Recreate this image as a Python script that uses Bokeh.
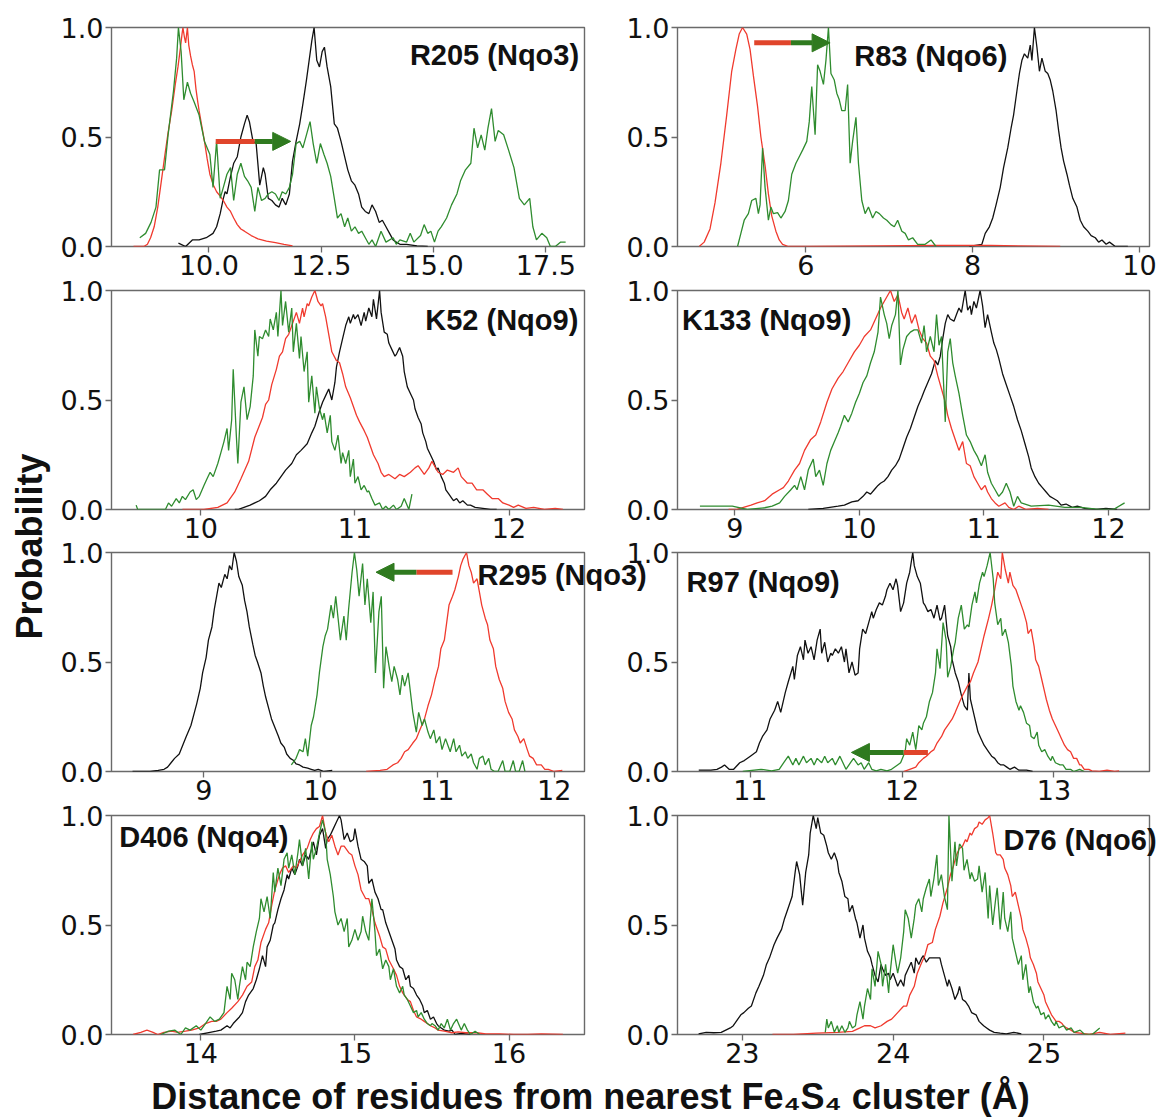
import math
from bokeh.plotting import figure
from bokeh.layouts import row, column
from bokeh.models import Range1d, FixedTicker, PrintfTickFormatter, Label, Arrow, NormalHead
from bokeh.embed import file_html
from bokeh.resources import INLINE

# ---------------- data ----------------
# Panel R205 (Nqo3)
r205_black_x = [9.32, 9.48, 9.63, 9.78, 9.94, 10.09, 10.17, 10.25, 10.32, 10.36, 10.40, 10.48, 10.55, 10.63, 10.71, 10.79, 10.85, 10.90, 10.98, 11.05, 11.13, 11.21, 11.25, 11.32, 11.40, 11.48, 11.56, 11.63, 11.71, 11.79, 11.86, 11.94, 12.02, 12.09, 12.17, 12.23, 12.29, 12.34, 12.40, 12.46, 12.52, 12.57, 12.63, 12.71, 12.79, 12.86, 12.94, 13.02, 13.09, 13.17, 13.25, 13.33, 13.40, 13.48, 13.56, 13.63, 13.71, 13.79, 13.86, 13.94, 14.02, 14.10, 14.17, 14.25, 14.40, 14.63, 14.87]
r205_black_y = [0.015, 0.0, 0.03, 0.03, 0.04, 0.06, 0.09, 0.15, 0.22, 0.25, 0.24, 0.32, 0.38, 0.41, 0.50, 0.56, 0.60, 0.57, 0.48, 0.47, 0.28, 0.36, 0.33, 0.22, 0.21, 0.19, 0.18, 0.22, 0.19, 0.24, 0.39, 0.48, 0.56, 0.65, 0.76, 0.85, 0.94, 1.0, 0.85, 0.82, 0.89, 0.91, 0.82, 0.73, 0.56, 0.54, 0.48, 0.41, 0.35, 0.30, 0.28, 0.24, 0.18, 0.16, 0.15, 0.19, 0.16, 0.11, 0.12, 0.09, 0.06, 0.03, 0.02, 0.01, 0.01, 0.003, 0.0]
r205_red_x = [8.32, 8.55, 8.63, 8.70, 8.78, 8.86, 8.94, 9.02, 9.09, 9.17, 9.25, 9.31, 9.36, 9.40, 9.42, 9.45, 9.48, 9.52, 9.55, 9.59, 9.63, 9.67, 9.71, 9.75, 9.78, 9.84, 9.90, 9.96, 10.02, 10.10, 10.17, 10.25, 10.32, 10.40, 10.48, 10.55, 10.63, 10.71, 10.79, 10.94, 11.09, 11.28, 11.48, 11.67, 11.86]
r205_red_y = [0.0, 0.0, 0.01, 0.04, 0.09, 0.18, 0.30, 0.42, 0.52, 0.62, 0.74, 0.82, 0.90, 0.97, 1.0, 0.96, 0.93, 1.0, 0.92, 0.87, 0.83, 0.80, 0.72, 0.66, 0.62, 0.55, 0.48, 0.40, 0.33, 0.28, 0.25, 0.23, 0.21, 0.18, 0.16, 0.13, 0.10, 0.08, 0.07, 0.05, 0.035, 0.025, 0.018, 0.01, 0.003]
r205_green_x = [8.46, 8.59, 8.71, 8.82, 8.90, 9.01, 9.09, 9.21, 9.28, 9.32, 9.38, 9.44, 9.52, 9.59, 9.67, 9.78, 9.90, 10.02, 10.09, 10.17, 10.25, 10.32, 10.40, 10.48, 10.55, 10.63, 10.71, 10.79, 10.86, 10.94, 11.02, 11.09, 11.17, 11.25, 11.32, 11.40, 11.48, 11.56, 11.63, 11.71, 11.79, 11.86, 11.94, 12.02, 12.09, 12.17, 12.25, 12.32, 12.40, 12.48, 12.56, 12.63, 12.71, 12.79, 12.86, 12.94, 13.02, 13.09, 13.17, 13.25, 13.33, 13.40, 13.48, 13.56, 13.63, 13.71, 13.83, 13.94, 14.10, 14.17, 14.25, 14.40, 14.48, 14.56, 14.71, 14.79, 14.87, 14.94, 15.02, 15.10, 15.17, 15.29, 15.40, 15.52, 15.60, 15.71, 15.83, 15.90, 15.98, 16.06, 16.14, 16.21, 16.29, 16.37, 16.44, 16.56, 16.67, 16.79, 16.91, 17.02, 17.14, 17.21, 17.29, 17.41, 17.52, 17.60, 17.71, 17.83, 17.94]
r205_green_y = [0.04, 0.06, 0.11, 0.18, 0.35, 0.35, 0.51, 0.71, 0.86, 1.0, 0.89, 0.67, 0.75, 0.70, 0.66, 0.60, 0.48, 0.42, 0.27, 0.48, 0.22, 0.27, 0.33, 0.36, 0.21, 0.33, 0.38, 0.32, 0.30, 0.27, 0.16, 0.27, 0.21, 0.22, 0.24, 0.25, 0.24, 0.21, 0.25, 0.24, 0.27, 0.33, 0.47, 0.48, 0.45, 0.51, 0.57, 0.47, 0.38, 0.47, 0.42, 0.38, 0.32, 0.22, 0.13, 0.15, 0.09, 0.13, 0.07, 0.09, 0.06, 0.07, 0.04, 0.01, 0.03, 0.0, 0.07, 0.02, 0.04, 0.01, 0.03, 0.02, 0.06, 0.02, 0.05, 0.10, 0.06, 0.07, 0.02, 0.07, 0.09, 0.13, 0.19, 0.24, 0.30, 0.35, 0.38, 0.54, 0.45, 0.51, 0.44, 0.54, 0.63, 0.48, 0.53, 0.51, 0.44, 0.36, 0.22, 0.19, 0.22, 0.09, 0.03, 0.06, 0.04, 0.0, 0.0, 0.02, 0.02]

# Panel R83 (Nqo6)
r83_black_x = [7.96, 8.11, 8.15, 8.20, 8.24, 8.28, 8.33, 8.37, 8.42, 8.46, 8.49, 8.53, 8.56, 8.59, 8.62, 8.66, 8.69, 8.71, 8.74, 8.77, 8.80, 8.83, 8.87, 8.90, 8.93, 8.96, 9.00, 9.03, 9.06, 9.09, 9.13, 9.16, 9.20, 9.25, 9.29, 9.33, 9.38, 9.42, 9.47, 9.51, 9.55, 9.60, 9.64, 9.71, 9.86]
r83_black_y = [0.0, 0.01, 0.06, 0.09, 0.13, 0.19, 0.27, 0.36, 0.45, 0.54, 0.60, 0.71, 0.79, 0.85, 0.88, 0.86, 0.92, 0.85, 1.0, 0.91, 0.80, 0.86, 0.80, 0.79, 0.76, 0.71, 0.62, 0.53, 0.45, 0.39, 0.33, 0.28, 0.22, 0.18, 0.12, 0.09, 0.07, 0.05, 0.04, 0.02, 0.03, 0.01, 0.02, 0.0, 0.0]
r83_red_x = [4.72, 4.78, 4.85, 4.91, 4.98, 5.05, 5.11, 5.16, 5.20, 5.24, 5.29, 5.33, 5.37, 5.42, 5.46, 5.51, 5.55, 5.59, 5.64, 5.68, 5.72, 5.79, 6.03, 6.91, 7.56, 8.22, 9.05]
r83_red_y = [0.0, 0.02, 0.08, 0.20, 0.38, 0.60, 0.80, 0.90, 0.97, 1.0, 0.97, 0.90, 0.78, 0.64, 0.50, 0.37, 0.24, 0.14, 0.07, 0.03, 0.01, 0.0, 0.0, 0.003, 0.005, 0.005, 0.0]
r83_green_x = [5.18, 5.22, 5.26, 5.31, 5.35, 5.40, 5.43, 5.45, 5.48, 5.51, 5.55, 5.58, 5.61, 5.66, 5.70, 5.75, 5.79, 5.83, 5.88, 5.92, 5.96, 6.01, 6.04, 6.07, 6.11, 6.14, 6.17, 6.21, 6.24, 6.27, 6.30, 6.34, 6.37, 6.40, 6.43, 6.47, 6.50, 6.53, 6.56, 6.60, 6.63, 6.67, 6.71, 6.75, 6.80, 6.84, 6.88, 6.93, 6.97, 7.02, 7.06, 7.10, 7.15, 7.19, 7.23, 7.28, 7.34, 7.43, 7.50, 7.56]
r83_green_y = [0.0, 0.06, 0.12, 0.15, 0.21, 0.22, 0.15, 0.19, 0.45, 0.27, 0.12, 0.18, 0.15, 0.155, 0.13, 0.16, 0.21, 0.33, 0.38, 0.41, 0.44, 0.48, 0.57, 0.73, 0.51, 0.83, 0.80, 0.74, 0.85, 1.0, 0.79, 0.76, 0.70, 0.67, 0.62, 0.62, 0.74, 0.38, 0.48, 0.59, 0.38, 0.21, 0.15, 0.18, 0.13, 0.16, 0.15, 0.13, 0.12, 0.10, 0.09, 0.12, 0.07, 0.06, 0.03, 0.04, 0.01, 0.01, 0.03, 0.0]

# Panel K52 (Nqo9)
k52_black_x = [10.22, 10.24, 10.28, 10.32, 10.35, 10.38, 10.42, 10.45, 10.49, 10.52, 10.55, 10.59, 10.62, 10.65, 10.69, 10.72, 10.74, 10.77, 10.79, 10.81, 10.83, 10.85, 10.87, 10.88, 10.90, 10.92, 10.94, 10.96, 10.97, 10.99, 11.00, 11.02, 11.04, 11.06, 11.07, 11.09, 11.11, 11.12, 11.14, 11.16, 11.17, 11.19, 11.21, 11.22, 11.24, 11.26, 11.27, 11.29, 11.31, 11.32, 11.34, 11.36, 11.38, 11.39, 11.41, 11.43, 11.44, 11.46, 11.47, 11.49, 11.51, 11.53, 11.54, 11.56, 11.58, 11.59, 11.61, 11.63, 11.64, 11.66, 11.68, 11.70, 11.73, 11.75, 11.78, 11.83, 11.88, 11.92]
k52_black_y = [0.0, 0.0, 0.01, 0.02, 0.03, 0.04, 0.06, 0.09, 0.12, 0.15, 0.18, 0.21, 0.25, 0.27, 0.30, 0.35, 0.38, 0.45, 0.49, 0.52, 0.55, 0.50, 0.58, 0.65, 0.72, 0.78, 0.84, 0.88, 0.85, 0.89, 0.87, 0.89, 0.84, 0.90, 0.86, 0.92, 0.88, 0.96, 0.87, 1.0, 0.90, 0.81, 0.80, 0.76, 0.73, 0.70, 0.71, 0.74, 0.70, 0.63, 0.56, 0.53, 0.50, 0.46, 0.42, 0.39, 0.35, 0.31, 0.28, 0.25, 0.22, 0.18, 0.19, 0.15, 0.12, 0.09, 0.07, 0.05, 0.04, 0.05, 0.03, 0.04, 0.02, 0.02, 0.01, 0.005, 0.0, 0.0]
k52_red_x = [9.88, 10.02, 10.11, 10.17, 10.22, 10.26, 10.31, 10.35, 10.40, 10.42, 10.44, 10.46, 10.49, 10.51, 10.53, 10.55, 10.57, 10.60, 10.62, 10.64, 10.66, 10.67, 10.69, 10.70, 10.72, 10.74, 10.76, 10.78, 10.79, 10.81, 10.83, 10.85, 10.88, 10.90, 10.92, 10.94, 10.97, 10.99, 11.01, 11.03, 11.06, 11.08, 11.10, 11.12, 11.15, 11.17, 11.19, 11.22, 11.26, 11.29, 11.32, 11.36, 11.39, 11.41, 11.45, 11.48, 11.50, 11.54, 11.57, 11.60, 11.64, 11.67, 11.69, 11.73, 11.76, 11.79, 11.83, 11.86, 11.89, 11.93, 11.96, 12.00, 12.03, 12.06, 12.11, 12.16, 12.23, 12.30, 12.35]
k52_red_y = [0.0, 0.0, 0.01, 0.03, 0.08, 0.14, 0.22, 0.33, 0.42, 0.48, 0.50, 0.57, 0.64, 0.70, 0.72, 0.78, 0.80, 0.86, 0.90, 0.85, 0.92, 0.88, 0.94, 0.93, 0.97, 1.0, 0.95, 0.93, 0.94, 0.88, 0.80, 0.72, 0.68, 0.67, 0.62, 0.56, 0.51, 0.47, 0.43, 0.40, 0.36, 0.33, 0.29, 0.25, 0.21, 0.17, 0.15, 0.16, 0.14, 0.16, 0.15, 0.17, 0.19, 0.20, 0.16, 0.19, 0.22, 0.17, 0.16, 0.18, 0.17, 0.19, 0.15, 0.12, 0.12, 0.09, 0.09, 0.07, 0.05, 0.05, 0.03, 0.02, 0.01, 0.02, 0.005, 0.01, 0.0, 0.005, 0.0]
k52_green_x = [9.58, 9.59, 9.77, 9.79, 9.81, 9.84, 9.86, 9.88, 9.90, 9.93, 9.95, 9.97, 9.99, 10.02, 10.04, 10.06, 10.08, 10.11, 10.13, 10.15, 10.17, 10.18, 10.20, 10.21, 10.23, 10.24, 10.26, 10.28, 10.30, 10.32, 10.34, 10.35, 10.37, 10.38, 10.40, 10.42, 10.44, 10.45, 10.47, 10.49, 10.50, 10.52, 10.53, 10.55, 10.57, 10.59, 10.60, 10.62, 10.64, 10.65, 10.67, 10.69, 10.70, 10.72, 10.74, 10.75, 10.77, 10.79, 10.80, 10.82, 10.84, 10.85, 10.87, 10.89, 10.91, 10.92, 10.94, 10.96, 10.97, 10.99, 11.00, 11.02, 11.04, 11.06, 11.08, 11.09, 11.11, 11.13, 11.16, 11.18, 11.20, 11.22, 11.25, 11.27, 11.30, 11.32, 11.35, 11.37]
k52_green_y = [0.02, 0.0, 0.0, 0.03, 0.015, 0.05, 0.03, 0.06, 0.045, 0.08, 0.09, 0.045, 0.06, 0.11, 0.14, 0.17, 0.15, 0.21, 0.26, 0.31, 0.37, 0.27, 0.41, 0.64, 0.34, 0.21, 0.49, 0.56, 0.41, 0.47, 0.61, 0.82, 0.70, 0.79, 0.78, 0.82, 0.79, 0.87, 0.82, 0.90, 0.79, 1.0, 0.84, 0.95, 0.81, 0.92, 0.72, 0.85, 0.69, 0.79, 0.63, 0.72, 0.49, 0.61, 0.44, 0.56, 0.46, 0.41, 0.44, 0.35, 0.43, 0.31, 0.27, 0.34, 0.21, 0.26, 0.21, 0.27, 0.15, 0.23, 0.12, 0.15, 0.09, 0.11, 0.08, 0.085, 0.05, 0.02, 0.03, 0.0, 0.015, 0.0, 0.02, 0.0, 0.015, 0.05, 0.0, 0.07]

# Panel K133 (Nqo9)
k133_black_x = [9.59, 9.71, 9.83, 9.88, 9.94, 9.99, 10.03, 10.06, 10.09, 10.12, 10.15, 10.17, 10.20, 10.23, 10.26, 10.29, 10.32, 10.35, 10.38, 10.41, 10.44, 10.47, 10.50, 10.52, 10.55, 10.58, 10.61, 10.63, 10.65, 10.67, 10.69, 10.71, 10.73, 10.76, 10.78, 10.80, 10.82, 10.85, 10.87, 10.89, 10.90, 10.92, 10.94, 10.97, 10.99, 11.01, 11.03, 11.06, 11.08, 11.10, 11.12, 11.15, 11.18, 11.21, 11.24, 11.27, 11.30, 11.33, 11.36, 11.38, 11.41, 11.44, 11.47, 11.50, 11.53, 11.56, 11.59, 11.62, 11.66, 11.71, 11.75, 11.81, 11.90, 11.98, 12.07]
k133_black_y = [0.0, 0.005, 0.015, 0.02, 0.035, 0.04, 0.06, 0.08, 0.07, 0.09, 0.11, 0.12, 0.13, 0.15, 0.18, 0.20, 0.23, 0.28, 0.33, 0.37, 0.42, 0.47, 0.51, 0.54, 0.58, 0.62, 0.68, 0.66, 0.70, 0.78, 0.85, 0.89, 0.87, 0.86, 0.89, 0.92, 0.90, 1.0, 0.91, 0.93, 0.89, 0.95, 0.92, 1.0, 0.93, 0.83, 0.89, 0.81, 0.76, 0.73, 0.69, 0.62, 0.57, 0.52, 0.47, 0.41, 0.36, 0.30, 0.24, 0.19, 0.15, 0.12, 0.10, 0.08, 0.06, 0.05, 0.04, 0.02, 0.025, 0.01, 0.015, 0.005, 0.0, 0.005, 0.0]
k133_red_x = [8.95, 9.01, 9.07, 9.13, 9.18, 9.24, 9.30, 9.36, 9.39, 9.43, 9.48, 9.52, 9.56, 9.61, 9.65, 9.69, 9.74, 9.78, 9.83, 9.87, 9.91, 9.96, 10.00, 10.04, 10.09, 10.13, 10.17, 10.21, 10.25, 10.28, 10.31, 10.34, 10.36, 10.39, 10.42, 10.45, 10.48, 10.51, 10.54, 10.57, 10.60, 10.63, 10.66, 10.69, 10.71, 10.74, 10.77, 10.80, 10.83, 10.86, 10.89, 10.92, 10.95, 10.98, 11.01, 11.03, 11.06, 11.09, 11.12, 11.17, 11.20, 11.24, 11.28, 11.34, 11.43, 11.52]
k133_red_y = [0.0, 0.0, 0.01, 0.02, 0.03, 0.04, 0.07, 0.09, 0.10, 0.13, 0.18, 0.21, 0.27, 0.32, 0.34, 0.40, 0.49, 0.55, 0.60, 0.63, 0.67, 0.72, 0.75, 0.79, 0.82, 0.87, 0.92, 0.96, 1.0, 0.95, 0.98, 0.90, 0.87, 0.92, 0.85, 0.89, 0.82, 0.78, 0.76, 0.70, 0.68, 0.61, 0.55, 0.49, 0.43, 0.37, 0.32, 0.27, 0.31, 0.21, 0.20, 0.15, 0.12, 0.09, 0.11, 0.08, 0.05, 0.03, 0.015, 0.03, 0.01, 0.0, 0.015, 0.0, 0.005, 0.0]
k133_green_x = [8.72, 8.80, 8.89, 8.98, 9.10, 9.24, 9.30, 9.36, 9.40, 9.45, 9.48, 9.50, 9.53, 9.56, 9.59, 9.63, 9.65, 9.68, 9.71, 9.74, 9.77, 9.80, 9.83, 9.85, 9.88, 9.91, 9.94, 9.97, 10.00, 10.03, 10.06, 10.09, 10.12, 10.15, 10.17, 10.20, 10.22, 10.24, 10.26, 10.29, 10.31, 10.33, 10.35, 10.38, 10.41, 10.44, 10.47, 10.50, 10.52, 10.54, 10.57, 10.60, 10.62, 10.64, 10.66, 10.69, 10.71, 10.73, 10.75, 10.77, 10.80, 10.83, 10.86, 10.89, 10.92, 10.95, 10.98, 11.01, 11.03, 11.06, 11.09, 11.12, 11.15, 11.18, 11.21, 11.24, 11.27, 11.30, 11.38, 11.52, 11.65, 11.78, 11.92, 12.04, 12.13]
k133_green_y = [0.015, 0.015, 0.015, 0.015, 0.0, 0.008, 0.015, 0.03, 0.06, 0.09, 0.11, 0.09, 0.15, 0.09, 0.18, 0.23, 0.15, 0.18, 0.11, 0.21, 0.27, 0.31, 0.35, 0.38, 0.43, 0.40, 0.44, 0.49, 0.53, 0.58, 0.61, 0.67, 0.72, 0.81, 0.97, 0.89, 0.85, 0.78, 0.84, 0.89, 1.0, 0.66, 0.73, 0.79, 0.81, 0.82, 0.82, 0.76, 0.84, 0.72, 0.79, 0.72, 0.89, 0.75, 0.79, 0.40, 0.72, 0.78, 0.67, 0.61, 0.53, 0.43, 0.34, 0.31, 0.27, 0.24, 0.20, 0.25, 0.17, 0.12, 0.09, 0.06, 0.08, 0.12, 0.08, 0.015, 0.06, 0.03, 0.015, 0.02, 0.01, 0.01, 0.0, 0.0, 0.03]

# Panel R295 (Nqo3)
r295_black_x = [8.39, 8.54, 8.61, 8.66, 8.69, 8.72, 8.75, 8.79, 8.82, 8.85, 8.89, 8.92, 8.94, 8.97, 8.99, 9.02, 9.04, 9.07, 9.09, 9.11, 9.13, 9.15, 9.18, 9.20, 9.22, 9.24, 9.26, 9.28, 9.30, 9.33, 9.35, 9.37, 9.39, 9.42, 9.44, 9.46, 9.49, 9.51, 9.53, 9.56, 9.58, 9.61, 9.64, 9.66, 9.69, 9.71, 9.74, 9.77, 9.79, 9.82, 9.85, 9.89, 9.92, 9.95, 9.98, 10.03, 10.10]
r295_black_y = [0.0, 0.0, 0.005, 0.01, 0.02, 0.04, 0.06, 0.08, 0.12, 0.16, 0.21, 0.27, 0.31, 0.38, 0.45, 0.52, 0.60, 0.66, 0.74, 0.80, 0.86, 0.84, 0.90, 0.88, 0.94, 0.92, 1.0, 0.96, 0.89, 0.85, 0.78, 0.73, 0.66, 0.58, 0.53, 0.50, 0.45, 0.39, 0.34, 0.28, 0.24, 0.20, 0.16, 0.13, 0.11, 0.08, 0.06, 0.05, 0.035, 0.03, 0.02, 0.015, 0.01, 0.005, 0.01, 0.0, 0.005]
r295_red_x = [10.39, 10.51, 10.57, 10.62, 10.66, 10.69, 10.72, 10.75, 10.79, 10.82, 10.85, 10.89, 10.92, 10.95, 10.98, 11.01, 11.03, 11.06, 11.08, 11.10, 11.13, 11.15, 11.18, 11.20, 11.22, 11.25, 11.27, 11.29, 11.31, 11.34, 11.36, 11.38, 11.41, 11.43, 11.45, 11.48, 11.50, 11.53, 11.56, 11.58, 11.61, 11.64, 11.66, 11.69, 11.71, 11.74, 11.77, 11.79, 11.82, 11.85, 11.89, 11.92, 11.95, 12.00, 12.07]
r295_red_y = [0.0, 0.005, 0.01, 0.03, 0.04, 0.06, 0.09, 0.10, 0.13, 0.15, 0.19, 0.24, 0.30, 0.35, 0.42, 0.48, 0.56, 0.60, 0.68, 0.76, 0.80, 0.83, 0.89, 0.94, 0.97, 1.0, 0.94, 0.91, 0.86, 0.88, 0.82, 0.76, 0.70, 0.67, 0.60, 0.56, 0.48, 0.42, 0.38, 0.32, 0.27, 0.24, 0.19, 0.16, 0.13, 0.15, 0.10, 0.07, 0.06, 0.03, 0.03, 0.01, 0.01, 0.0, 0.005]
r295_green_x = [9.75, 9.79, 9.82, 9.85, 9.87, 9.89, 9.92, 9.94, 9.97, 9.99, 10.02, 10.04, 10.06, 10.09, 10.11, 10.13, 10.15, 10.17, 10.20, 10.22, 10.24, 10.27, 10.29, 10.31, 10.33, 10.36, 10.38, 10.40, 10.43, 10.45, 10.47, 10.50, 10.52, 10.54, 10.56, 10.59, 10.61, 10.63, 10.66, 10.68, 10.70, 10.72, 10.75, 10.77, 10.79, 10.82, 10.84, 10.87, 10.89, 10.92, 10.94, 10.97, 10.99, 11.02, 11.04, 11.07, 11.09, 11.11, 11.14, 11.16, 11.19, 11.21, 11.24, 11.26, 11.29, 11.31, 11.34, 11.36, 11.39, 11.41, 11.44, 11.46, 11.49, 11.52, 11.56, 11.58, 11.62, 11.65, 11.67, 11.70, 11.73, 11.75]
r295_green_y = [0.03, 0.06, 0.10, 0.09, 0.15, 0.07, 0.21, 0.25, 0.35, 0.45, 0.57, 0.62, 0.65, 0.76, 0.70, 0.80, 0.70, 0.60, 0.71, 0.60, 0.74, 0.91, 1.0, 0.92, 0.80, 0.95, 0.76, 0.88, 0.68, 0.82, 0.45, 0.73, 0.80, 0.38, 0.57, 0.47, 0.41, 0.48, 0.42, 0.35, 0.44, 0.39, 0.45, 0.36, 0.27, 0.18, 0.27, 0.21, 0.24, 0.18, 0.15, 0.19, 0.13, 0.16, 0.10, 0.15, 0.12, 0.09, 0.15, 0.09, 0.12, 0.07, 0.09, 0.06, 0.08, 0.04, 0.01, 0.06, 0.07, 0.03, 0.06, 0.01, 0.0, 0.0, 0.05, 0.0, 0.0, 0.05, 0.0, 0.0, 0.05, 0.0]

# Panel R97 (Nqo9)
r97_black_x = [10.66, 10.74, 10.78, 10.81, 10.83, 10.86, 10.89, 10.93, 10.96, 11.00, 11.04, 11.06, 11.08, 11.11, 11.13, 11.16, 11.18, 11.20, 11.23, 11.25, 11.28, 11.29, 11.31, 11.33, 11.35, 11.36, 11.38, 11.40, 11.42, 11.44, 11.46, 11.47, 11.49, 11.51, 11.53, 11.54, 11.56, 11.58, 11.60, 11.62, 11.63, 11.65, 11.67, 11.69, 11.71, 11.72, 11.74, 11.76, 11.78, 11.80, 11.81, 11.83, 11.85, 11.87, 11.89, 11.90, 11.92, 11.94, 11.96, 11.97, 11.99, 12.01, 12.03, 12.05, 12.07, 12.08, 12.10, 12.12, 12.14, 12.15, 12.17, 12.19, 12.21, 12.23, 12.25, 12.26, 12.28, 12.30, 12.32, 12.33, 12.35, 12.37, 12.39, 12.41, 12.43, 12.44, 12.45, 12.47, 12.49, 12.50, 12.52, 12.54, 12.56, 12.57, 12.59, 12.61, 12.63, 12.65, 12.67, 12.69, 12.71, 12.74, 12.77, 12.82, 12.86]
r97_black_y = [0.006, 0.006, 0.01, 0.02, 0.03, 0.01, 0.01, 0.04, 0.05, 0.07, 0.09, 0.13, 0.16, 0.19, 0.24, 0.28, 0.32, 0.27, 0.36, 0.41, 0.48, 0.42, 0.53, 0.57, 0.51, 0.60, 0.54, 0.57, 0.51, 0.60, 0.65, 0.54, 0.59, 0.50, 0.54, 0.53, 0.56, 0.54, 0.57, 0.50, 0.56, 0.45, 0.50, 0.44, 0.45, 0.56, 0.65, 0.63, 0.68, 0.73, 0.70, 0.74, 0.77, 0.76, 0.80, 0.83, 0.86, 0.83, 0.88, 0.85, 0.73, 0.77, 0.86, 0.91, 1.0, 0.94, 0.89, 0.86, 0.77, 0.76, 0.73, 0.74, 0.70, 0.76, 0.69, 0.70, 0.76, 0.62, 0.57, 0.51, 0.45, 0.41, 0.35, 0.30, 0.28, 0.45, 0.33, 0.27, 0.21, 0.18, 0.15, 0.12, 0.10, 0.09, 0.07, 0.06, 0.04, 0.03, 0.03, 0.02, 0.01, 0.02, 0.006, 0.006, 0.0]
r97_red_x = [12.01, 12.05, 12.09, 12.11, 12.14, 12.16, 12.19, 12.21, 12.23, 12.26, 12.28, 12.31, 12.33, 12.35, 12.38, 12.40, 12.43, 12.45, 12.47, 12.50, 12.52, 12.54, 12.57, 12.59, 12.61, 12.63, 12.65, 12.66, 12.68, 12.70, 12.71, 12.73, 12.75, 12.77, 12.78, 12.80, 12.82, 12.83, 12.85, 12.87, 12.88, 12.90, 12.92, 12.94, 12.95, 12.97, 12.99, 13.01, 13.03, 13.05, 13.07, 13.09, 13.11, 13.13, 13.15, 13.17, 13.18, 13.20, 13.23, 13.25, 13.30, 13.35, 13.40, 13.43]
r97_red_y = [0.0, 0.01, 0.02, 0.04, 0.06, 0.07, 0.09, 0.10, 0.13, 0.16, 0.19, 0.22, 0.24, 0.27, 0.32, 0.35, 0.39, 0.41, 0.45, 0.50, 0.56, 0.62, 0.70, 0.76, 0.83, 0.91, 0.88, 1.0, 0.92, 0.86, 0.91, 0.85, 0.83, 0.79, 0.77, 0.73, 0.68, 0.63, 0.65, 0.57, 0.51, 0.48, 0.42, 0.36, 0.33, 0.28, 0.24, 0.21, 0.18, 0.15, 0.12, 0.10, 0.09, 0.06, 0.06, 0.03, 0.03, 0.01, 0.01, 0.003, 0.0, 0.006, 0.0, 0.003]
r97_green_x = [10.95, 11.07, 11.14, 11.19, 11.22, 11.25, 11.28, 11.30, 11.32, 11.35, 11.37, 11.40, 11.42, 11.44, 11.47, 11.49, 11.51, 11.54, 11.56, 11.59, 11.61, 11.63, 11.66, 11.68, 11.71, 11.73, 11.75, 11.78, 11.80, 11.83, 11.86, 11.90, 11.93, 11.97, 11.99, 12.02, 12.03, 12.05, 12.07, 12.09, 12.11, 12.13, 12.14, 12.16, 12.18, 12.20, 12.22, 12.23, 12.25, 12.27, 12.29, 12.30, 12.32, 12.34, 12.35, 12.37, 12.39, 12.41, 12.43, 12.44, 12.46, 12.48, 12.49, 12.51, 12.53, 12.54, 12.56, 12.58, 12.60, 12.61, 12.63, 12.65, 12.66, 12.68, 12.70, 12.72, 12.73, 12.75, 12.77, 12.78, 12.80, 12.82, 12.84, 12.85, 12.87, 12.89, 12.90, 12.92, 12.94, 12.96, 12.98, 12.99, 13.01, 13.04, 13.06, 13.08, 13.11, 13.13, 13.17, 13.20]
r97_green_y = [0.0, 0.01, 0.003, 0.01, 0.04, 0.07, 0.03, 0.06, 0.03, 0.07, 0.04, 0.06, 0.03, 0.06, 0.04, 0.07, 0.04, 0.06, 0.03, 0.07, 0.04, 0.01, 0.04, 0.06, 0.03, 0.04, 0.01, 0.04, 0.01, 0.003, 0.01, 0.003, 0.01, 0.03, 0.04, 0.09, 0.15, 0.12, 0.18, 0.10, 0.21, 0.19, 0.22, 0.25, 0.32, 0.36, 0.45, 0.56, 0.47, 0.68, 0.60, 0.43, 0.48, 0.56, 0.59, 0.70, 0.76, 0.65, 0.67, 0.66, 0.76, 0.82, 0.77, 0.86, 0.91, 0.89, 0.94, 1.0, 0.88, 0.77, 0.67, 0.70, 0.62, 0.65, 0.59, 0.48, 0.39, 0.32, 0.28, 0.30, 0.27, 0.22, 0.21, 0.16, 0.15, 0.18, 0.12, 0.09, 0.10, 0.07, 0.05, 0.07, 0.04, 0.03, 0.03, 0.01, 0.01, 0.0, 0.01, 0.0]

# Panel D406 (Nqo4)
d406_black_x = [13.99, 14.06, 14.10, 14.13, 14.17, 14.19, 14.21, 14.25, 14.27, 14.29, 14.31, 14.34, 14.36, 14.38, 14.40, 14.42, 14.43, 14.45, 14.47, 14.48, 14.50, 14.52, 14.54, 14.56, 14.57, 14.59, 14.61, 14.63, 14.64, 14.66, 14.68, 14.70, 14.72, 14.73, 14.75, 14.77, 14.79, 14.81, 14.82, 14.84, 14.86, 14.88, 14.90, 14.91, 14.93, 14.95, 14.97, 14.99, 15.00, 15.02, 15.04, 15.06, 15.08, 15.09, 15.11, 15.13, 15.15, 15.17, 15.18, 15.20, 15.22, 15.24, 15.26, 15.27, 15.29, 15.31, 15.33, 15.35, 15.36, 15.38, 15.40, 15.42, 15.44, 15.45, 15.47, 15.49, 15.51, 15.53, 15.54, 15.56, 15.58, 15.61, 15.63, 15.65, 15.69, 15.72, 15.75]
d406_black_y = [0.0, 0.01, 0.015, 0.02, 0.04, 0.03, 0.05, 0.08, 0.10, 0.15, 0.18, 0.21, 0.25, 0.30, 0.36, 0.31, 0.40, 0.43, 0.50, 0.51, 0.57, 0.62, 0.66, 0.73, 0.71, 0.76, 0.73, 0.77, 0.80, 0.77, 0.82, 0.80, 0.85, 0.88, 0.82, 0.91, 0.94, 0.85, 0.89, 0.91, 0.94, 0.97, 1.0, 0.98, 0.89, 0.92, 0.88, 0.89, 0.94, 0.86, 0.80, 0.79, 0.77, 0.69, 0.71, 0.65, 0.62, 0.57, 0.57, 0.51, 0.47, 0.43, 0.39, 0.34, 0.31, 0.30, 0.25, 0.27, 0.22, 0.21, 0.18, 0.16, 0.13, 0.10, 0.11, 0.07, 0.08, 0.05, 0.04, 0.03, 0.02, 0.015, 0.02, 0.0, 0.005, 0.003, 0.0]
d406_red_x = [13.56, 13.61, 13.65, 13.69, 13.72, 13.76, 13.81, 13.85, 13.90, 13.94, 13.99, 14.03, 14.07, 14.10, 14.13, 14.17, 14.20, 14.24, 14.27, 14.30, 14.33, 14.35, 14.37, 14.39, 14.42, 14.44, 14.46, 14.48, 14.51, 14.53, 14.55, 14.57, 14.60, 14.62, 14.64, 14.66, 14.69, 14.71, 14.73, 14.75, 14.77, 14.79, 14.81, 14.83, 14.85, 14.87, 14.89, 14.91, 14.93, 14.96, 14.98, 15.00, 15.02, 15.04, 15.07, 15.09, 15.11, 15.13, 15.16, 15.18, 15.20, 15.22, 15.25, 15.27, 15.29, 15.31, 15.34, 15.36, 15.38, 15.40, 15.43, 15.45, 15.47, 15.49, 15.52, 15.54, 15.58, 15.63, 15.67, 15.72, 15.79, 15.85, 15.94, 16.03, 16.12, 16.21, 16.35]
d406_red_y = [0.0, 0.01, 0.02, 0.01, 0.0, 0.01, 0.015, 0.01, 0.015, 0.02, 0.03, 0.05, 0.06, 0.06, 0.07, 0.10, 0.12, 0.15, 0.18, 0.22, 0.24, 0.31, 0.34, 0.42, 0.48, 0.51, 0.59, 0.66, 0.73, 0.76, 0.77, 0.74, 0.77, 0.76, 0.79, 0.82, 0.85, 0.89, 0.92, 0.94, 0.95, 1.0, 0.92, 0.88, 0.91, 0.86, 0.82, 0.86, 0.86, 0.83, 0.82, 0.77, 0.73, 0.66, 0.62, 0.62, 0.57, 0.51, 0.45, 0.40, 0.39, 0.34, 0.30, 0.27, 0.22, 0.19, 0.16, 0.15, 0.11, 0.08, 0.07, 0.06, 0.05, 0.04, 0.03, 0.02, 0.015, 0.008, 0.012, 0.008, 0.008, 0.003, 0.003, 0.0, 0.0, 0.003, 0.0]
d406_green_x = [13.74, 13.79, 13.83, 13.87, 13.90, 13.93, 13.97, 14.00, 14.03, 14.06, 14.09, 14.12, 14.15, 14.17, 14.19, 14.20, 14.22, 14.24, 14.25, 14.27, 14.29, 14.30, 14.32, 14.34, 14.36, 14.38, 14.39, 14.41, 14.43, 14.45, 14.47, 14.48, 14.50, 14.52, 14.54, 14.56, 14.57, 14.59, 14.61, 14.63, 14.64, 14.66, 14.68, 14.70, 14.72, 14.73, 14.75, 14.77, 14.79, 14.81, 14.82, 14.84, 14.86, 14.87, 14.89, 14.91, 14.93, 14.95, 14.96, 14.98, 15.00, 15.02, 15.04, 15.05, 15.07, 15.09, 15.11, 15.13, 15.14, 15.16, 15.18, 15.20, 15.22, 15.23, 15.25, 15.27, 15.29, 15.31, 15.32, 15.34, 15.36, 15.38, 15.40, 15.41, 15.43, 15.45, 15.47, 15.49, 15.50, 15.52, 15.54, 15.56, 15.58, 15.60, 15.62, 15.64, 15.66, 15.69, 15.71, 15.73, 15.75, 15.78, 15.81]
d406_green_y = [0.0, 0.015, 0.02, 0.0, 0.03, 0.02, 0.04, 0.02, 0.05, 0.08, 0.06, 0.07, 0.10, 0.22, 0.16, 0.28, 0.25, 0.16, 0.22, 0.31, 0.25, 0.33, 0.31, 0.40, 0.47, 0.53, 0.62, 0.56, 0.63, 0.53, 0.74, 0.65, 0.76, 0.68, 0.80, 0.83, 0.76, 0.82, 0.73, 0.83, 0.89, 0.77, 0.85, 0.71, 0.88, 0.80, 0.85, 0.92, 0.98, 0.92, 0.80, 0.73, 0.63, 0.56, 0.50, 0.53, 0.47, 0.53, 0.40, 0.43, 0.48, 0.43, 0.47, 0.54, 0.47, 0.43, 0.62, 0.47, 0.36, 0.39, 0.30, 0.34, 0.31, 0.25, 0.30, 0.22, 0.19, 0.22, 0.18, 0.16, 0.13, 0.10, 0.11, 0.08, 0.10, 0.07, 0.05, 0.04, 0.05, 0.04, 0.02, 0.05, 0.03, 0.07, 0.02, 0.05, 0.07, 0.02, 0.05, 0.02, 0.0, 0.015, 0.0]

# Panel D76 (Nqo6)
d76_black_x = [22.71, 22.76, 22.81, 22.86, 22.89, 22.92, 22.94, 22.97, 22.99, 23.01, 23.04, 23.06, 23.09, 23.11, 23.14, 23.16, 23.18, 23.21, 23.23, 23.26, 23.28, 23.30, 23.33, 23.35, 23.36, 23.38, 23.40, 23.42, 23.44, 23.45, 23.47, 23.49, 23.50, 23.52, 23.54, 23.56, 23.57, 23.59, 23.61, 23.63, 23.64, 23.66, 23.68, 23.70, 23.71, 23.73, 23.75, 23.76, 23.78, 23.80, 23.81, 23.83, 23.85, 23.86, 23.88, 23.90, 23.92, 23.93, 23.95, 23.97, 23.98, 24.00, 24.02, 24.03, 24.05, 24.07, 24.08, 24.10, 24.12, 24.14, 24.15, 24.17, 24.19, 24.20, 24.22, 24.24, 24.25, 24.27, 24.29, 24.31, 24.32, 24.34, 24.36, 24.37, 24.39, 24.41, 24.43, 24.44, 24.46, 24.48, 24.50, 24.52, 24.55, 24.57, 24.60, 24.62, 24.64, 24.67, 24.71, 24.75, 24.80, 24.85]
d76_black_y = [0.003, 0.01, 0.008, 0.01, 0.02, 0.03, 0.04, 0.07, 0.09, 0.10, 0.12, 0.13, 0.19, 0.22, 0.27, 0.32, 0.35, 0.41, 0.44, 0.48, 0.53, 0.57, 0.63, 0.74, 0.79, 0.73, 0.59, 0.74, 0.82, 0.92, 1.0, 0.94, 0.99, 0.92, 0.91, 0.86, 0.83, 0.80, 0.83, 0.79, 0.74, 0.70, 0.63, 0.62, 0.56, 0.59, 0.53, 0.51, 0.44, 0.50, 0.44, 0.38, 0.35, 0.32, 0.27, 0.24, 0.32, 0.30, 0.27, 0.28, 0.25, 0.28, 0.24, 0.22, 0.25, 0.22, 0.27, 0.30, 0.33, 0.28, 0.35, 0.32, 0.35, 0.36, 0.33, 0.35, 0.35, 0.35, 0.35, 0.35, 0.32, 0.27, 0.22, 0.25, 0.21, 0.16, 0.19, 0.22, 0.16, 0.15, 0.13, 0.10, 0.09, 0.06, 0.04, 0.03, 0.02, 0.01, 0.006, 0.003, 0.01, 0.003]
d76_red_x = [23.20, 23.34, 23.49, 23.63, 23.73, 23.78, 23.81, 23.85, 23.88, 23.92, 23.96, 23.99, 24.03, 24.07, 24.09, 24.11, 24.14, 24.16, 24.19, 24.21, 24.23, 24.26, 24.28, 24.31, 24.33, 24.36, 24.38, 24.40, 24.42, 24.44, 24.46, 24.48, 24.49, 24.51, 24.52, 24.54, 24.56, 24.57, 24.59, 24.61, 24.63, 24.64, 24.66, 24.68, 24.69, 24.71, 24.73, 24.74, 24.76, 24.78, 24.79, 24.81, 24.83, 24.85, 24.86, 24.88, 24.90, 24.91, 24.93, 24.95, 24.96, 24.98, 25.00, 25.01, 25.03, 25.05, 25.07, 25.08, 25.10, 25.12, 25.13, 25.15, 25.18, 25.20, 25.24, 25.30, 25.37, 25.44, 25.54]
d76_red_y = [0.0, 0.0, 0.006, 0.01, 0.014, 0.03, 0.04, 0.04, 0.03, 0.04, 0.06, 0.07, 0.10, 0.13, 0.13, 0.18, 0.22, 0.28, 0.33, 0.36, 0.41, 0.42, 0.48, 0.54, 0.60, 0.67, 0.73, 0.77, 0.82, 0.85, 0.86, 0.89, 0.88, 0.92, 0.91, 0.94, 0.95, 0.97, 0.96, 0.98, 0.99, 1.0, 0.92, 0.83, 0.82, 0.82, 0.80, 0.76, 0.73, 0.68, 0.63, 0.65, 0.59, 0.53, 0.48, 0.44, 0.39, 0.35, 0.32, 0.28, 0.24, 0.21, 0.18, 0.15, 0.12, 0.09, 0.07, 0.06, 0.06, 0.05, 0.04, 0.03, 0.02, 0.01, 0.006, 0.0, 0.01, 0.0, 0.006]
d76_green_x = [23.55, 23.56, 23.57, 23.59, 23.61, 23.63, 23.64, 23.66, 23.68, 23.70, 23.71, 23.73, 23.75, 23.76, 23.78, 23.80, 23.81, 23.83, 23.85, 23.86, 23.88, 23.90, 23.92, 23.93, 23.95, 23.97, 23.98, 24.00, 24.02, 24.03, 24.05, 24.07, 24.08, 24.10, 24.12, 24.14, 24.15, 24.17, 24.19, 24.20, 24.22, 24.24, 24.25, 24.27, 24.29, 24.30, 24.32, 24.34, 24.36, 24.37, 24.39, 24.41, 24.42, 24.44, 24.46, 24.47, 24.49, 24.51, 24.52, 24.54, 24.56, 24.57, 24.59, 24.61, 24.63, 24.64, 24.66, 24.68, 24.69, 24.71, 24.73, 24.74, 24.76, 24.78, 24.79, 24.81, 24.83, 24.85, 24.86, 24.88, 24.90, 24.91, 24.93, 24.95, 24.96, 24.98, 25.00, 25.01, 25.03, 25.05, 25.07, 25.08, 25.10, 25.13, 25.15, 25.18, 25.20, 25.24, 25.27, 25.32, 25.37]
d76_green_y = [0.01, 0.07, 0.03, 0.06, 0.01, 0.04, 0.01, 0.04, 0.01, 0.03, 0.06, 0.03, 0.04, 0.09, 0.15, 0.07, 0.13, 0.21, 0.16, 0.30, 0.22, 0.38, 0.32, 0.22, 0.32, 0.19, 0.28, 0.41, 0.32, 0.28, 0.35, 0.47, 0.57, 0.53, 0.44, 0.53, 0.59, 0.62, 0.56, 0.62, 0.67, 0.71, 0.63, 0.71, 0.82, 0.68, 0.73, 0.63, 0.57, 1.0, 0.70, 0.88, 0.77, 0.87, 0.85, 0.75, 0.80, 0.71, 0.74, 0.70, 0.71, 0.77, 0.65, 0.74, 0.53, 0.68, 0.50, 0.62, 0.67, 0.48, 0.65, 0.53, 0.47, 0.56, 0.44, 0.38, 0.32, 0.36, 0.25, 0.32, 0.19, 0.22, 0.15, 0.12, 0.13, 0.09, 0.10, 0.07, 0.09, 0.06, 0.04, 0.06, 0.03, 0.04, 0.02, 0.03, 0.01, 0.02, 0.0, 0.0, 0.03]

# Panel titles, axis limits and tick values
panel_labels = ["R205 (Nqo3)", "R83 (Nqo6)", "K52 (Nqo9)", "K133 (Nqo9)",
                "R295 (Nqo3)", "R97 (Nqo9)", "D406 (Nqo4)", "D76 (Nqo6)"]
x_limits = [(7.83, 18.36), (4.46, 10.12), (9.42, 12.49), (8.54, 12.33),
            (8.21, 12.26), (10.52, 13.63), (13.42, 16.49), (22.57, 25.70)]
x_ticks = [[10.0, 12.5, 15.0, 17.5], [6, 8, 10], [10, 11, 12], [9, 10, 11, 12],
           [9, 10, 11, 12], [11, 12, 13], [14, 15, 16], [23, 24, 25]]
x_tick_formats = ["%.1f", "%d", "%d", "%d", "%d", "%d", "%d", "%d"]
y_ticks = [0.0, 0.5, 1.0]
y_label = "Probability"
x_label = "Distance of residues from nearest Fe\u2084S\u2084 cluster (\u00c5)"

# in-panel label anchors (data coords); None = label overhangs the frame,
# so it is drawn on the page overlay instead (page pixel anchor below)
label_pos = [(18.24, 0.875, "right"), (6.58, 0.87, "left"), (12.45, 0.865, "right"),
             (8.577, 0.865, "left"), None, (10.58, 0.865, "left"),
             (13.47, 0.90, "left"), None]
overlay_label_pos = {4: (477, 574), 7: (1003, 839)}
# shift arrows: (panel, y, red start, green start, tip)
arrows = [(0, 0.48, 10.15, 11.02, 11.82), (1, 0.93, 5.38, 5.82, 6.29),
          (4, 0.91, 11.13, 10.82, 10.475), (5, 0.087, 12.17, 12.01, 11.666)]

series = [
    (r205_black_x, r205_black_y, r205_red_x, r205_red_y, r205_green_x, r205_green_y),
    (r83_black_x, r83_black_y, r83_red_x, r83_red_y, r83_green_x, r83_green_y),
    (k52_black_x, k52_black_y, k52_red_x, k52_red_y, k52_green_x, k52_green_y),
    (k133_black_x, k133_black_y, k133_red_x, k133_red_y, k133_green_x, k133_green_y),
    (r295_black_x, r295_black_y, r295_red_x, r295_red_y, r295_green_x, r295_green_y),
    (r97_black_x, r97_black_y, r97_red_x, r97_red_y, r97_green_x, r97_green_y),
    (d406_black_x, d406_black_y, d406_red_x, d406_red_y, d406_green_x, d406_green_y),
    (d76_black_x, d76_black_y, d76_red_x, d76_red_y, d76_green_x, d76_green_y),
]

# ---------------- styling ----------------
BLACK = "#111111"
RED = "#f03a2e"
GREEN = "#2f8c2f"
ARROW_RED = "#e0452b"
ARROW_GREEN = "#2f7a1f"
FRAME = "#6a6a6a"
TICK_FONT = "DejaVu Sans"
BOLD_FONT = "Liberation Sans"

FRAME_H = 219
TOP_MARGINS = [0, -24, -25, -24]
PAGE_W = 1159
PAGE_H = 1117


def make_panel(i):
    col = i % 2
    r = i // 2
    left = col == 0
    p = figure(
        frame_width=473 if left else 472, frame_height=FRAME_H,
        x_range=Range1d(*x_limits[i]), y_range=Range1d(0, 1),
        output_backend="svg", toolbar_location=None,
        min_border_left=111 if left else 60,
        min_border_right=62 if left else 10,
        min_border_top=27 if r == 0 else 22,
        min_border_bottom=46,
        border_fill_alpha=0.0,
        background_fill_color="white",
    )
    if r > 0:
        p.margin = (TOP_MARGINS[r], 0, 0, 0)
    p.xgrid.grid_line_color = None
    p.ygrid.grid_line_color = None
    p.outline_line_color = FRAME
    p.outline_line_width = 1.4
    p.xaxis.ticker = FixedTicker(ticks=x_ticks[i])
    p.xaxis.formatter = PrintfTickFormatter(format=x_tick_formats[i])
    p.yaxis.ticker = FixedTicker(ticks=y_ticks)
    p.yaxis.formatter = PrintfTickFormatter(format="%.1f")
    for ax in (p.xaxis[0], p.yaxis[0]):
        ax.axis_line_color = None
        ax.major_tick_line_color = FRAME
        ax.major_tick_line_width = 1.3
        ax.major_tick_out = 6
        ax.major_tick_in = 0
        ax.minor_tick_line_color = None
        ax.major_label_text_font = TICK_FONT
        ax.major_label_text_font_size = "27px"
        ax.major_label_text_color = "#111111"
        ax.major_label_standoff = 2

    bx, by, rx, ry, gx, gy = series[i]
    for xs, ys, c in ((bx, by, BLACK), (rx, ry, RED), (gx, gy, GREEN)):
        n = min(len(xs), len(ys))
        p.line(xs[:n], ys[:n], line_color=c, line_width=1.3)

    if label_pos[i] is not None:
        lx, ly, al = label_pos[i]
        p.add_layout(Label(x=lx, y=ly, text=panel_labels[i], text_align=al,
                           text_baseline="middle", text_font=BOLD_FONT,
                           text_font_style="bold", text_font_size="29px",
                           text_color="#111111"))

    for (pi, ay, xr, xg, xt) in arrows:
        if pi != i:
            continue
        p.segment(x0=[xr], y0=[ay], x1=[xg], y1=[ay], line_color=ARROW_RED,
                  line_width=5)
        p.add_layout(Arrow(end=NormalHead(size=18, fill_color=ARROW_GREEN,
                                          line_color=ARROW_GREEN, line_width=1),
                           x_start=xg, y_start=ay, x_end=xt, y_end=ay,
                           line_color=ARROW_GREEN, line_width=5))
    return p


panels = [make_panel(i) for i in range(8)]
col_left = column(panels[0], panels[2], panels[4], panels[6])
col_right = column(panels[1], panels[3], panels[5], panels[7])
col_right.margin = (0, 0, 0, -29)
grid = row(col_left, col_right)

grid_h = (27 + FRAME_H + 46) + sum(22 + FRAME_H + 46 + m for m in TOP_MARGINS[1:])

# transparent page-sized overlay for the shared axis titles and overhanging labels
overlay = figure(width=PAGE_W, height=PAGE_H, x_range=Range1d(0, PAGE_W),
                 y_range=Range1d(PAGE_H, 0), output_backend="svg",
                 toolbar_location=None, min_border=0, border_fill_alpha=0.0,
                 background_fill_alpha=0.0, outline_line_color=None)
overlay.axis.visible = False
overlay.grid.visible = False
overlay.margin = (-grid_h, 0, 0, 0)
overlay.add_layout(Label(x=29, y=546, text=y_label, angle=math.pi / 2,
                         text_align="center", text_baseline="middle", text_font=BOLD_FONT,
                         text_font_style="bold", text_font_size="36px", text_color="#111111"))
overlay.add_layout(Label(x=590, y=1096, text=x_label, text_align="center",
                         text_baseline="middle", text_font=BOLD_FONT,
                         text_font_style="bold", text_font_size="36px", text_color="#111111"))
for i, (ox, oy) in overlay_label_pos.items():
    overlay.add_layout(Label(x=ox, y=oy, text=panel_labels[i], text_align="left",
                             text_baseline="middle", text_font=BOLD_FONT,
                             text_font_style="bold", text_font_size="29px",
                             text_color="#111111"))

layout = column(grid, overlay)

with open("out.html", "w") as f:
    f.write(file_html(layout, INLINE))
